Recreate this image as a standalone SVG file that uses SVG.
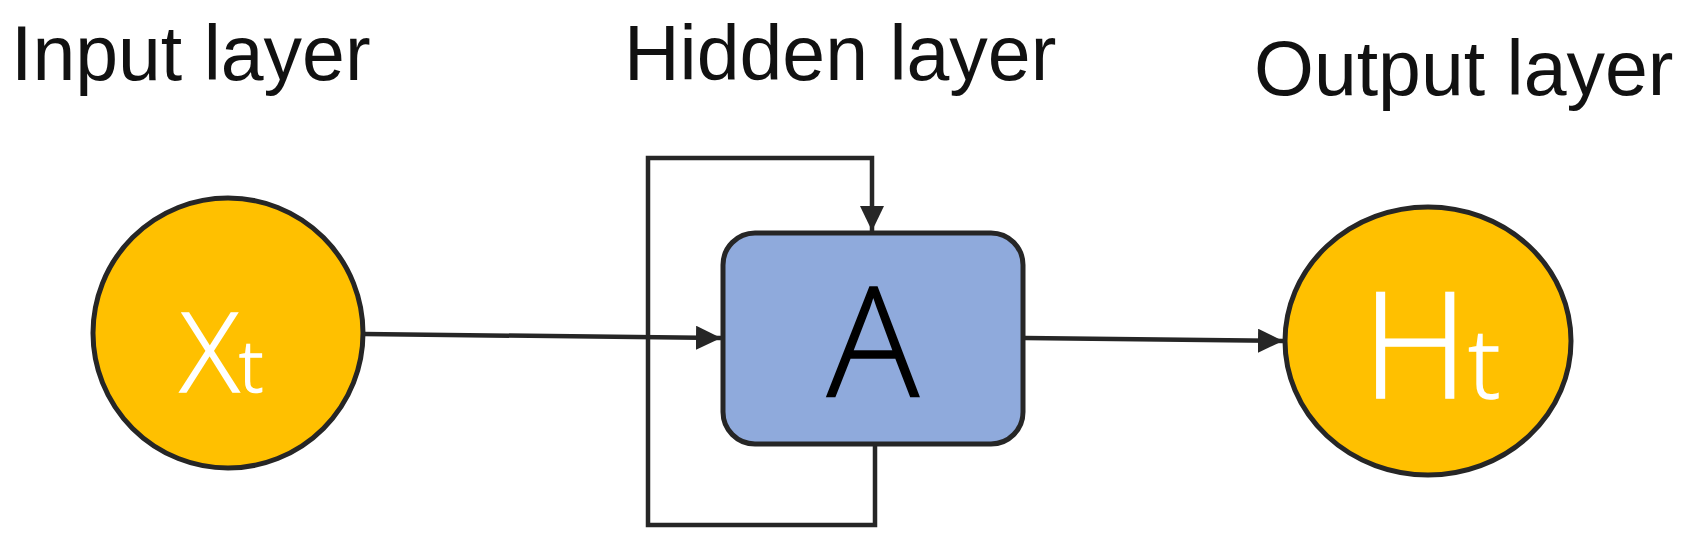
<svg xmlns="http://www.w3.org/2000/svg" width="1700" height="549" viewBox="0 0 1700 549">
<style>
.lbl{font-family:"Liberation Sans",Arial,sans-serif;font-size:77px;fill:#111}
.sym{font-family:"Open Sans","Liberation Sans",sans-serif;font-weight:300;stroke-width:1.6}
.node{stroke:#262626;stroke-width:5}
.wire{fill:none;stroke:#262626;stroke-width:4.5}
</style>
<defs>
<marker id="ah" markerUnits="userSpaceOnUse" markerWidth="26" markerHeight="26" refX="25" refY="12" orient="auto">
<path d="M0,0 L25,12 L0,24 z" fill="#262626"/>
</marker>
</defs>
<rect width="1700" height="549" fill="#fff"/>
<g id="labels">
<text class="lbl" x="11" y="80">Input layer</text>
<text class="lbl" x="624" y="80">Hidden layer</text>
<text class="lbl" x="1254" y="95">Output layer</text>
</g>
<g id="connectors">
<line class="wire" x1="364" y1="334" x2="721" y2="338" marker-end="url(#ah)"/>
<line class="wire" x1="1025" y1="338" x2="1283" y2="341" marker-end="url(#ah)"/>
<polyline class="wire" points="875,445 875,525 648,525 648,158 872,158 872,231" marker-end="url(#ah)"/>
</g>
<g id="node-xt">
<circle class="node" cx="228" cy="333" r="135" fill="#FFC000"/>
<text class="sym" x="180" y="392" font-size="110" fill="#fff" stroke="#fff">X<tspan font-size="72">t</tspan></text>
</g>
<g id="node-a">
<rect class="node" x="723" y="233" width="300" height="211" rx="32" fill="#8FAADC"/>
<text class="sym" x="873" y="397" font-size="153" fill="#000" stroke="#000" text-anchor="middle">A</text>
</g>
<g id="node-ht">
<ellipse class="node" cx="1428" cy="341" rx="143" ry="134" fill="#FFC000"/>
<text class="sym" x="1362" y="398" font-size="148" fill="#fff" stroke="#fff">H<tspan font-size="95">t</tspan></text>
</g>
</svg>
